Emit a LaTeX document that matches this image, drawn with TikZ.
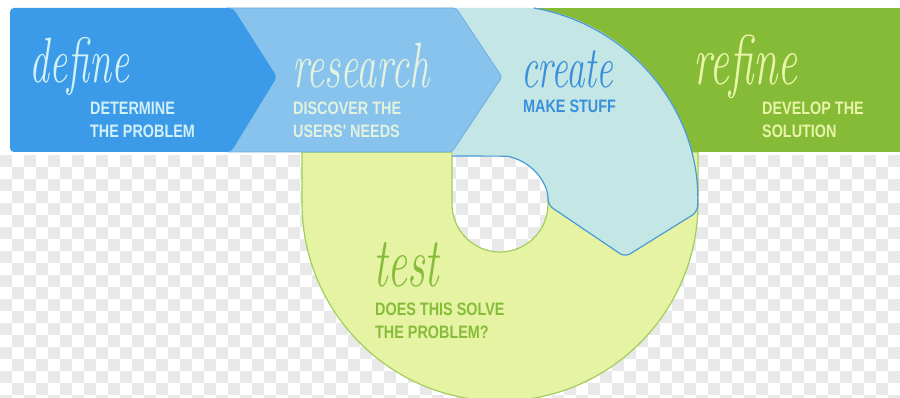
\documentclass[tikz,border=0pt]{standalone}
\usepackage{fontspec}
\newfontfamily\capsfont{Liberation Sans}
\definecolor{defineblue}{HTML}{3C9BE8}
\definecolor{researchblue}{HTML}{87C3EC}
\definecolor{createteal}{HTML}{C4E6E4}
\definecolor{refinegreen}{HTML}{85BB36}
\definecolor{testyellow}{HTML}{E5F3A2}
\definecolor{edgeblue}{HTML}{4A9AD9}
\definecolor{testline}{HTML}{A3CD5E}
\definecolor{definetext}{HTML}{D2F0F8}
\definecolor{researchtext}{HTML}{E4F2E0}
\definecolor{createtext}{HTML}{3A8FDC}
\definecolor{refinetext}{HTML}{E8F5A8}
\definecolor{testtext}{HTML}{86BC3A}
\definecolor{checkgray}{HTML}{E9E9E9}

\begin{document}
\begin{tikzpicture}[x=1pt,y=1pt,
  hand/.style={font=\fontsize{40}{40}\selectfont\itshape, inner sep=0pt,
    anchor=base west, yscale=1.6, transform shape},
  caps/.style={font=\capsfont\bfseries\fontsize{18}{23}\selectfont, inner sep=0pt,
    anchor=north west, align=left, xscale=0.8, transform shape}]
\useasboundingbox (0,0) rectangle (900,398);
\fill[white] (0,0) rectangle (900,398);
\foreach \i in {0,...,74}
  \foreach \j in {0,...,20}{
    \pgfmathtruncatemacro\parity{mod(\i+\j,2)}
    \ifnum\parity=0 \fill[checkgray] (12*\i,243-12*\j) rectangle ++(12,-12); \fi
  }
% test ring
\filldraw[testyellow, draw=testline, line width=1.2pt, even odd rule]
  (302,246) -- (302,195) arc[start angle=180, end angle=360, radius=198pt] -- (698,246) -- cycle
  (452,246) -- (452,194) arc[start angle=180, end angle=360, radius=48pt] -- (548,246) -- cycle;
% band
\fill[refinegreen] (480,390) rectangle (900,246);
\fill[createteal, rounded corners=6pt]
  (440,390) -- (534,390) arc[start angle=80, end angle=-2.6, radius=198pt]
  -- (625,141) -- (548,193) arc[start angle=-1, end angle=90, radius=48pt]
  -- (452,242) -- cycle;
\draw[edgeblue, line width=1.2pt, rounded corners=6pt]
  (534,390) arc[start angle=80, end angle=-2.6, radius=198pt]
  -- (625,141) -- (548,193) arc[start angle=-1, end angle=90, radius=48pt]
  -- (452,242);
\filldraw[researchblue, draw=edgeblue!80, line width=0.8pt, rounded corners=3pt]
  (225,390) -- (456,390) -- (502,321) -- (452,246) -- (225,246) -- cycle;
\fill[defineblue, rounded corners=4pt]
  (10,390) -- (233,390) -- (277,321) -- (231,246) -- (10,246) -- cycle;
% texts
\node[hand, text=definetext] (define) at (29,315) {define};
\node[caps, text=definetext] (defineSub) at (90,296) {DETERMINE\\THE PROBLEM};
\node[hand, text=researchtext] (research) at (292,310) {research};
\node[caps, text=researchtext] (researchSub) at (293,296) {DISCOVER THE\\USERS' NEEDS};
\node[hand, text=createtext, font=\fontsize{37}{37}\selectfont\itshape] (create) at (521,310) {create};
\node[caps, text=createtext] (createSub) at (523,298) {MAKE STUFF};
\node[hand, text=refinetext, font=\fontsize{44}{44}\selectfont\itshape] (refine) at (693,313) {refine};
\node[caps, text=refinetext] (refineSub) at (762,296) {DEVELOP THE\\SOLUTION};
\node[hand, text=testtext, font=\fontsize{44}{44}\selectfont\itshape] (test) at (373,111) {test};
\node[caps, text=testtext] (testSub) at (375,95) {DOES THIS SOLVE\\THE PROBLEM?};
\end{tikzpicture}
\end{document}
